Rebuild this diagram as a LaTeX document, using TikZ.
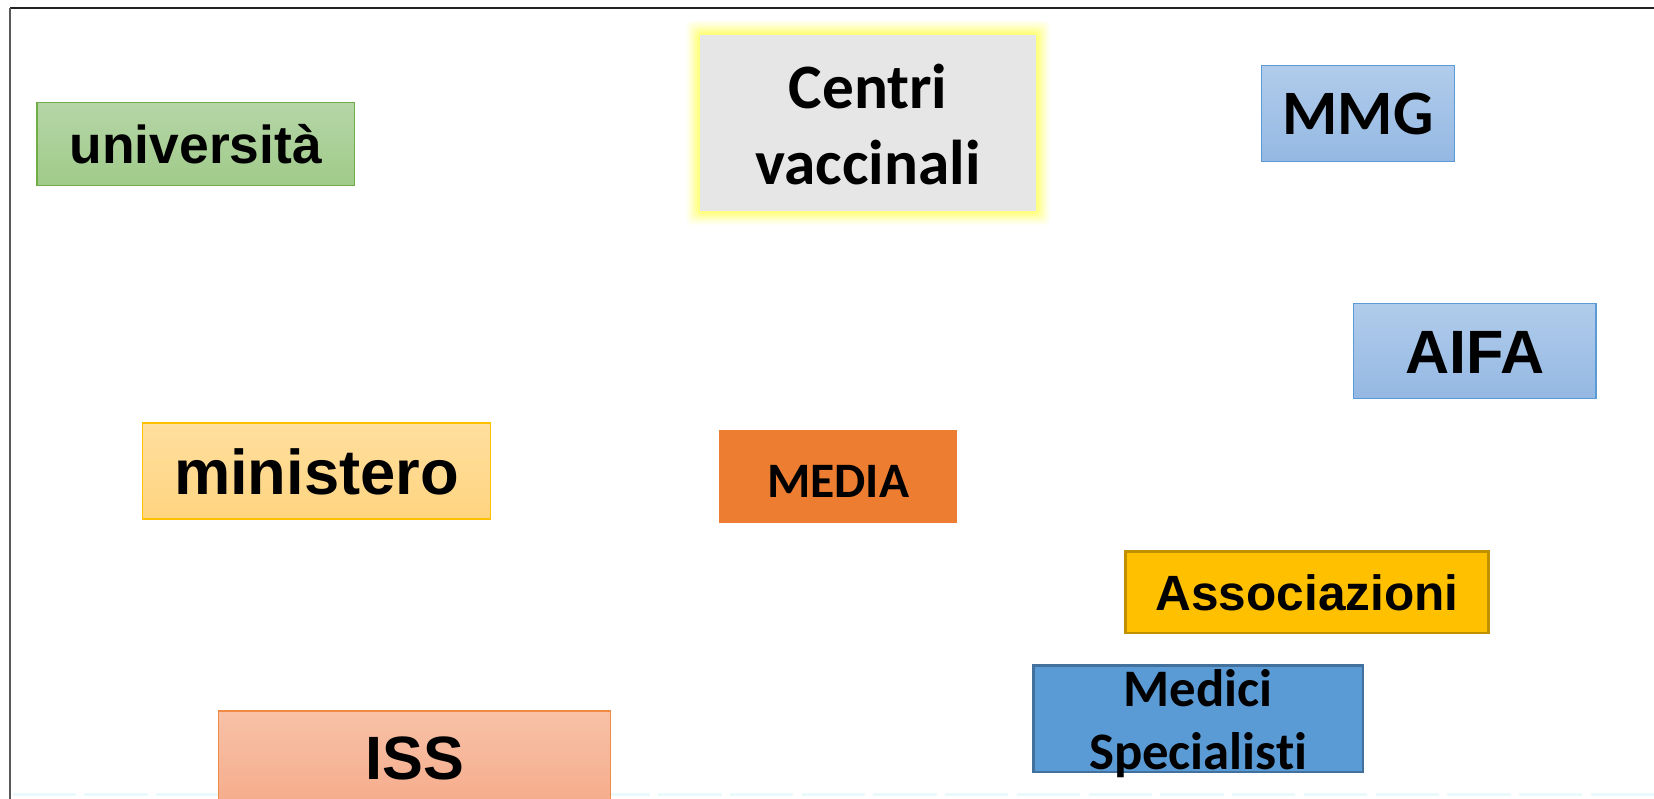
\documentclass[tikz,border=0pt]{standalone}
\usepackage{fontspec}
\setmainfont{Liberation Sans}
\newfontfamily\calfont[Ligatures=NoCommon]{Carlito}
\definecolor{gtop}{HTML}{B5D6A7}
\definecolor{gbot}{HTML}{A0CA89}
\definecolor{gbrd}{HTML}{70AD47}
\definecolor{btop}{HTML}{B1CCEB}
\definecolor{bbot}{HTML}{94B8E3}
\definecolor{bbrd}{HTML}{5B9BD5}
\definecolor{otop}{HTML}{FFDF9E}
\definecolor{obot}{HTML}{FFD480}
\definecolor{obrd}{HTML}{FFC000}
\definecolor{media}{HTML}{ED7D31}
\definecolor{assoc}{HTML}{FFC000}
\definecolor{assocbrd}{HTML}{BF9000}
\definecolor{medici}{HTML}{5B9BD5}
\definecolor{medicibrd}{HTML}{41719C}
\definecolor{stop}{HTML}{F8C1A7}
\definecolor{sbot}{HTML}{F4A683}
\definecolor{sbrd}{HTML}{F08A44}
\definecolor{grayc}{HTML}{E6E6E6}
\definecolor{glowc}{HTML}{FFFF66}
\definecolor{framec}{HTML}{222222}
\definecolor{cyanc}{HTML}{EAF9FC}
\tikzset{
  box/.style={rectangle, inner sep=0pt, line width=0.6pt},
}
\begin{document}
\begin{tikzpicture}[x=0.5pt,y=-0.5pt]
\useasboundingbox (0,0) rectangle (1568,757);
\fill[white] (0,0) rectangle (1568,757);
% frame
\draw[framec, line width=0.9pt] (9.5,7.6) -- (1568,7.6);
\draw[black!65, line width=0.8pt] (9.5,7.6) -- (9.5,757);
% faint bottom strip
\draw[cyanc, line width=1.2pt, dash pattern=on 30pt off 4pt] (12,753) -- (1568,753);

% università
\node[box, draw=gbrd, top color=gtop, bottom color=gbot, minimum width=150.5pt, minimum height=39.5pt] (univ) at (185.5,136.5) {};
\node[font=\fontsize{25.3}{30}\selectfont\bfseries] (univt) at (185.5,137) {università};

% Centri vaccinali with glow
\foreach \d/\o in {13/0.10,11/0.12,9/0.16,7/0.22,5/0.3,3/0.45}{
  \fill[glowc, opacity=\o, rounded corners=3pt] (664-\d,33-\d) rectangle (982+\d,200+\d);
}
\node[box, fill=grayc, minimum width=159pt, minimum height=83.5pt] (centri) at (823,116.5) {};
\node[align=center, font=\calfont\fontsize{30}{36}\selectfont\bfseries] (centrit) at (823,118) {Centri\\vaccinali};

% MMG
\node[box, draw=bbrd, top color=btop, bottom color=bbot, minimum width=91.5pt, minimum height=45.5pt] (mmg) at (1287.5,107.5) {};
\node[font=\calfont\fontsize{30}{36}\selectfont\bfseries] (mmgt) at (1287.5,108) {MMG};

% AIFA
\node[box, draw=bbrd, top color=btop, bottom color=bbot, minimum width=115pt, minimum height=45pt] (aifa) at (1398,333) {};
\node[font=\fontsize{29}{34}\selectfont\bfseries] (aifat) at (1398,334) {AIFA};

% ministero
\node[box, draw=obrd, top color=otop, bottom color=obot, minimum width=165pt, minimum height=45.5pt] (min) at (300,446.5) {};
\node[font=\fontsize{30}{36}\selectfont\bfseries] (mint) at (300,447) {ministero};

% MEDIA
\node[box, draw=media, fill=media, minimum width=112.5pt, minimum height=43.5pt] (media) at (794.5,451.5) {};
\node[font=\calfont\fontsize{23.5}{28}\selectfont\bfseries] (mediat) at (794.5,456) {MEDIA};

% Associazioni
\node[box, draw=assocbrd, line width=1.2pt, fill=assoc, minimum width=172pt, minimum height=38.5pt] (assoc) at (1239,561.5) {};
\node[font=\fontsize{23.5}{28}\selectfont\bfseries] (assoct) at (1239,562) {Associazioni};

% Medici Specialisti
\node[box, draw=medicibrd, line width=1.2pt, fill=medici, minimum width=156pt, minimum height=50.5pt] (medici) at (1136,681.5) {};
\node[align=center, font=\calfont\fontsize{25}{29.5}\selectfont\bfseries] (medicit) at (1136,686) {Medici\\Specialisti};

% ISS (cut at bottom)
\draw[sbrd, line width=0.6pt, top color=stop, bottom color=sbot] (207,674) rectangle (579,790);
\node[font=\fontsize{29}{34}\selectfont\bfseries] (isst) at (393,719) {ISS};
\end{tikzpicture}
\end{document}
